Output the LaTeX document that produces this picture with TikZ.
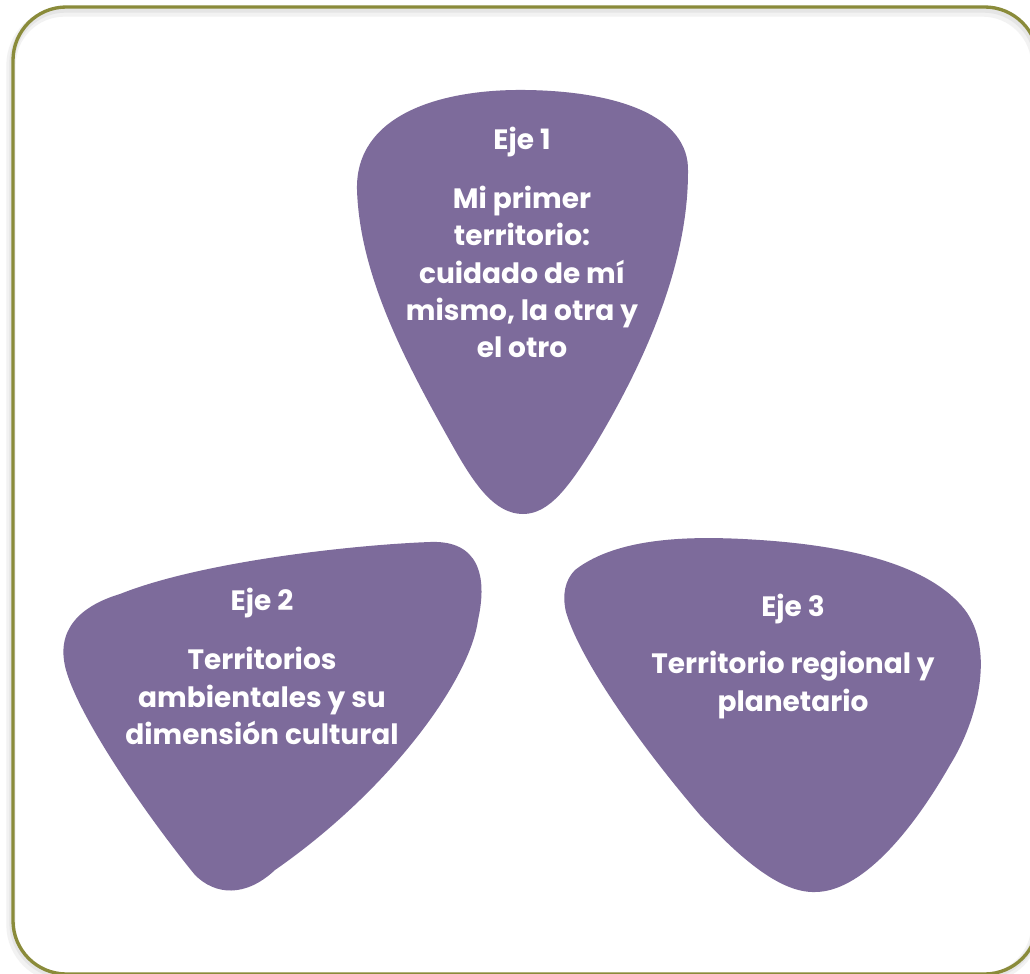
\documentclass[tikz,border=0pt]{standalone}
\usepackage{fontspec}
\setmainfont{Poppins}
\definecolor{pick}{HTML}{7D6B9B}
\definecolor{olive}{HTML}{8A8B3A}
\tikzset{
  picktext/.style={text=white, font=\fontsize{21}{28}\selectfont\bfseries, align=center, inner sep=0pt},
  pickshape/.style={fill=pick, draw=none},
}
\begin{document}
\begin{tikzpicture}[x=0.75pt,y=-0.75pt]
\useasboundingbox (0,0) rectangle (1030,973);
\fill[white] (0,0) rectangle (1030,973);
% soft shadow
\draw[black!5, line width=7, rounded corners=40] (11,12) rectangle (1036,978);
\draw[black!10, line width=4, rounded corners=40] (12,10) rectangle (1037,976);
% border
\draw[olive, line width=2.5, rounded corners=40] (13,7) rectangle (1038,974);
% top pick
\path[pickshape] (523,514) .. controls (495,514) and (475,485) .. (455,450)
  .. controls (410,370) and (360,280) .. (357,190)
  .. controls (355,115) and (440,89) .. (525,90)
  .. controls (615,91) and (690,115) .. (688,172)
  .. controls (688,270) and (640,370) .. (595,445)
  .. controls (570,485) and (550,514) .. (523,514) -- cycle;
% left pick
\path[pickshape] (120,594) .. controls (200,562) and (350,545) .. (430,542)
  .. controls (478,540) and (488,575) .. (478,620)
  .. controls (470,680) and (390,790) .. (275,870)
  .. controls (245,898) and (215,895) .. (195,875)
  .. controls (150,820) and (80,720) .. (66,670)
  .. controls (55,630) and (80,606) .. (120,594) -- cycle;
% right pick
\path[pickshape] (575,570) .. controls (620,535) and (700,536) .. (760,540)
  .. controls (850,546) and (930,565) .. (965,610)
  .. controls (995,650) and (978,720) .. (950,765)
  .. controls (910,835) and (860,892) .. (815,892)
  .. controls (780,893) and (740,858) .. (700,815)
  .. controls (640,745) and (580,660) .. (566,612)
  .. controls (562,595) and (565,580) .. (575,570) -- cycle;
% texts
\node[picktext] (e1) at (522,142) {Eje 1};
\node[picktext] (t1) at (522,272) {Mi primer\\territorio:\\cuidado de mí\\mismo, la otra y\\el otro};
\node[picktext] (e2) at (262,603) {Eje 2};
\node[picktext] (t2) at (262,696) {Territorios\\ambientales y su\\dimensión cultural};
\node[picktext] (e3) at (793,609) {Eje 3};
\node[picktext] (t3) at (793,685) {Territorio regional y\\planetario};
\end{tikzpicture}
\end{document}
